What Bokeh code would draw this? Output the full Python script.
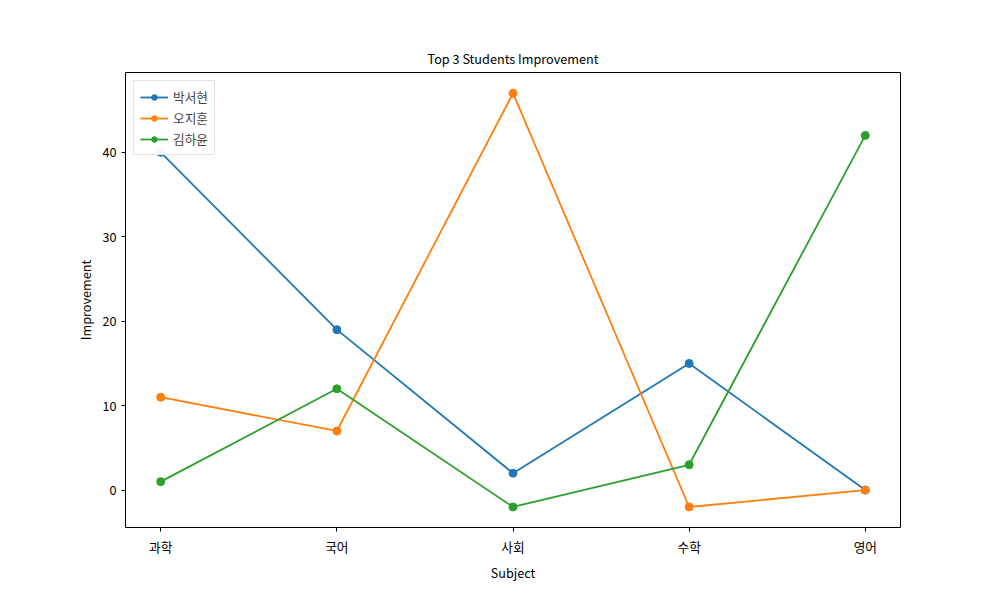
from bokeh.plotting import figure
from bokeh.models import Range1d, FixedTicker, Legend, LegendItem
from bokeh.embed import file_html
from bokeh.resources import INLINE

subjects = ["과학", "국어", "사회", "수학", "영어"]
s1 = [40, 19, 2, 15, 0]
s2 = [11, 7, 47, -2, 0]
s3 = [1, 12, -2, 3, 42]
names = ["박서현", "오지훈", "김하윤"]
colors = ["#1f77b4", "#ff7f0e", "#2ca02c"]
FONT = "Noto Sans CJK KR"

p = figure(width=984, height=584, output_backend="svg", toolbar_location=None,
           x_range=Range1d(-0.2, 4.2), y_range=Range1d(-4.43, 49.45),
           min_border_left=125, min_border_right=84, min_border_top=72, min_border_bottom=50,
           title="Top 3 Students Improvement")
p.title.align = "center"
p.title.text_font = FONT
p.title.text_font_size = "9.5pt"
p.title.text_font_style = "normal"
p.title.text_color = "black"
p.grid.visible = False
p.outline_line_color = "black"
xs = list(range(len(subjects)))
p.xaxis.ticker = FixedTicker(ticks=xs)
p.xaxis.major_label_overrides = {i: s for i, s in enumerate(subjects)}
p.yaxis.ticker = FixedTicker(ticks=[0, 10, 20, 30, 40])
p.xaxis.axis_label = "Subject"
p.yaxis.axis_label = "Improvement"
for ax in (p.xaxis[0], p.yaxis[0]):
    ax.axis_label_text_font = FONT
    ax.axis_label_text_font_style = "normal"
    ax.axis_label_text_font_size = "9.5pt"
    ax.axis_label_standoff = 4
    ax.major_label_text_font = FONT
    ax.major_label_text_font_size = "9.5pt"
    ax.major_label_text_color = "black"
    ax.axis_label_text_color = "black"
    ax.minor_tick_line_color = None
    ax.major_tick_out = 4
    ax.major_tick_in = 0
    ax.axis_line_color = None

items = []
for n, ys, c in zip(names, [s1, s2, s3], colors):
    l = p.line(xs, ys, line_color=c, line_width=1.8)
    m = p.scatter(xs, ys, size=8, fill_color=c, line_color=c)
    items.append(LegendItem(label=n, renderers=[l, m]))
leg = Legend(items=items, location="top_left", label_text_font=FONT,
             label_text_font_size="9.5pt", border_line_color="#cccccc",
             glyph_width=28, glyph_height=14, spacing=2, padding=6, margin=8,
             label_height=14)
p.add_layout(leg, "center")

open("out.html", "w").write(file_html(p, INLINE))
